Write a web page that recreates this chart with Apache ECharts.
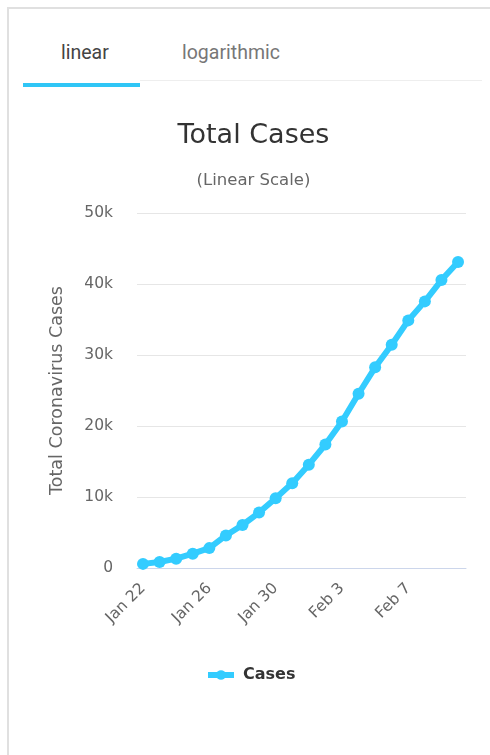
<!DOCTYPE html>
<html>
<head>
<meta charset="utf-8">
<script src="https://cdn.jsdelivr.net/npm/echarts@6/dist/echarts.min.js"></script>
<style>
  html, body { margin: 0; padding: 0; width: 490px; height: 755px; overflow: hidden; background: #fff; }
  #card { position: absolute; left: 7px; top: 7px; width: 490px; height: 760px; border-left: 2px solid #e0e0e0; border-top: 2px solid #e0e0e0; box-sizing: border-box; }
  .tab { position: absolute; top: 43px; line-height: 20px; font-family: Roboto, "Open Sans", sans-serif; font-size: 19.5px; }
  #t1 { left: 61px; color: #444; }
  #t2 { left: 182px; color: #777; }
  #lineGray { position: absolute; left: 140px; top: 80px; width: 342px; height: 1px; background: #eee; }
  #lineBlue { position: absolute; left: 23px; top: 83px; width: 117px; height: 4px; background: #2fc6f6; }
  #chart { position: absolute; left: 0; top: 0; width: 490px; height: 755px; }
</style>
</head>
<body>
<div id="card"></div>
<div class="tab" id="t1">linear</div>
<div class="tab" id="t2">logarithmic</div>
<div id="lineGray"></div>
<div id="lineBlue"></div>
<div id="chart"></div>
<script>
const categories = ["Jan 22","Jan 23","Jan 24","Jan 25","Jan 26","Jan 27","Jan 28","Jan 29","Jan 30","Jan 31",
  "Feb 1","Feb 2","Feb 3","Feb 4","Feb 5","Feb 6","Feb 7","Feb 8","Feb 9","Feb 10"];
const cases = [580, 845, 1317, 2015, 2800, 4581, 6058, 7813, 9823, 11950,
  14553, 17391, 20630, 24545, 28266, 31439, 34876, 37552, 40553, 43099];
const xTickIdx = [0, 4, 8, 12, 16];
const yTicks = [0, 10000, 20000, 30000, 40000, 50000];

const chart = echarts.init(document.getElementById('chart'));
const font = '"DejaVu Sans", Verdana, sans-serif';
chart.setOption({
  animation: false,
  title: {
    text: 'Total Cases',
    subtext: '(Linear Scale)',
    left: 248.5,
    textAlign: 'center',
    top: 117,
    itemGap: 23,
    textStyle: { fontFamily: font, fontSize: 27, fontWeight: 'normal', color: '#333' },
    subtextStyle: { fontFamily: font, fontSize: 16.5, color: '#666' }
  },
  grid: { left: 137, right: 24, top: 213, bottom: 187 },
  xAxis: {
    type: 'value',
    min: -0.362,
    max: 19.48,
    splitLine: { show: false },
    axisLine: { show: true, onZero: false, lineStyle: { color: '#ccd6eb', width: 1 } },
    axisTick: { show: false },
    axisLabel: {
      customValues: xTickIdx,
      rotate: 45,
      margin: 18,
      color: '#666',
      fontFamily: font,
      fontSize: 15.5,
      formatter: v => categories[Math.round(v)]
    }
  },
  yAxis: {
    type: 'value',
    min: 0,
    max: 50000,
    interval: 10000,
    name: 'Total Coronavirus Cases',
    nameLocation: 'middle',
    nameGap: 71,
    nameTextStyle: { fontFamily: font, fontSize: 17.5, color: '#666' },
    axisLine: { show: false },
    axisTick: { show: false },
    splitLine: { lineStyle: { color: '#e6e6e6', width: 1 } },
    axisLabel: {
      customValues: yTicks,
      margin: 24,
      color: '#666',
      fontFamily: font,
      fontSize: 15.5,
      formatter: v => v === 0 ? '0' : (v / 1000) + 'k'
    }
  },
  legend: {
    bottom: 67,
    left: 200,
    itemWidth: 26,
    itemHeight: 12,
    itemGap: 8,
    lineStyle: { width: 6 },
    textStyle: { fontFamily: font, fontSize: 16, fontWeight: 'bold', color: '#333', padding: [0, 0, 0, 4] },
    data: ['Cases']
  },
  series: [{
    name: 'Cases',
    type: 'line',
    data: cases.map((v, i) => [i, v]),
    symbol: 'circle',
    symbolSize: 12,
    lineStyle: { color: '#33ccff', width: 6 },
    itemStyle: { color: '#33ccff' }
  }]
});
</script>
</body>
</html>
